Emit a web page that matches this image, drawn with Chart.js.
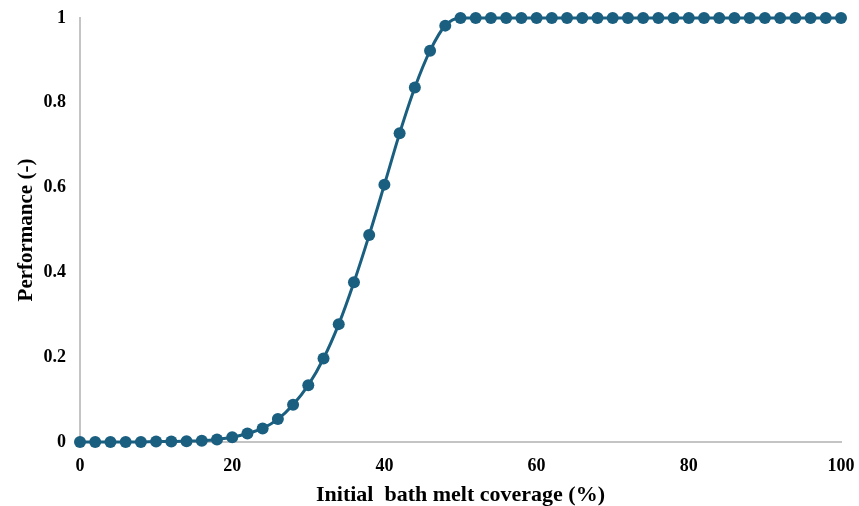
<!DOCTYPE html>
<html>
<head>
<meta charset="utf-8">
<script src="https://cdn.jsdelivr.net/npm/chart.js@4/dist/chart.umd.min.js"></script>
<style>
  html, body { margin: 0; padding: 0; background: #ffffff; }
  #wrap { width: 859px; height: 506px; position: relative; }
</style>
</head>
<body>
<div id="wrap"><canvas id="chart"></canvas></div>
<script>
// Initial bath melt coverage (%) sampled every 2 %
const coverage = [
  0, 2, 4, 6, 8, 10, 12, 14, 16, 18, 20, 22, 24, 26, 28, 30, 32, 34, 36, 38,
  40, 42, 44, 46, 48, 50, 52, 54, 56, 58, 60, 62, 64, 66, 68, 70, 72, 74, 76, 78,
  80, 82, 84, 86, 88, 90, 92, 94, 96, 98, 100
];
// Performance (-) at each coverage value
const performance = [
  0, 0, 0, 0, 0, 0.001, 0.001, 0.002, 0.003, 0.006, 0.011, 0.020, 0.032, 0.054, 0.088, 0.134, 0.197, 0.278, 0.377, 0.488,
  0.607, 0.728, 0.836, 0.923, 0.982, 1, 1, 1, 1, 1, 1, 1, 1, 1, 1, 1, 1, 1, 1, 1,
  1, 1, 1, 1, 1, 1, 1, 1, 1, 1, 1
];
const xTicks = [0, 20, 40, 60, 80, 100];
const yTicks = [0, 0.2, 0.4, 0.6, 0.8, 1];

const points = coverage.map((c, i) => ({ x: c, y: performance[i] }));
const seriesColor = '#1a5f80';
const axisColor = '#c4c4c4';
const font = { family: '"Liberation Serif", "Times New Roman", serif', weight: 'bold' };

// Fixed axis boxes so the plot area sits at a set place on the canvas
function fixBox(size, dim) {
  return s => {
    s[dim] = size;
    s.paddingTop = 0; s.paddingBottom = 0; s.paddingLeft = 0; s.paddingRight = 0;
  };
}

new Chart(document.getElementById('chart'), {
  type: 'line',
  data: {
    datasets: [{
      data: points,
      borderColor: seriesColor,
      backgroundColor: seriesColor,
      borderWidth: 3,
      pointRadius: 6,
      pointHoverRadius: 6,
      pointBackgroundColor: seriesColor,
      pointBorderWidth: 0,
      cubicInterpolationMode: 'monotone',
      clip: false
    }]
  },
  options: {
    responsive: true,
    maintainAspectRatio: false,
    animation: false,
    layout: { padding: { top: 18, right: 18, left: 0, bottom: 0 } },
    plugins: { legend: { display: false }, tooltip: { enabled: false } },
    scales: {
      x: {
        type: 'linear',
        min: 0, max: 100,
        afterFit: fixBox(64, 'height'),
        afterBuildTicks: s => { s.ticks = xTicks.map(v => ({ value: v })); },
        grid: { display: false, drawTicks: false },
        border: { color: axisColor, width: 2 },
        ticks: { color: '#000', padding: 14, font: { ...font, size: 18 }, maxRotation: 0 },
        title: {
          display: true,
          text: 'Initial  bath melt coverage (%)',
          color: '#000',
          font: { ...font, size: 22, lineHeight: 1 },
          padding: { top: 0, bottom: 0 }
        }
      },
      y: {
        min: 0, max: 1,
        afterFit: fixBox(80, 'width'),
        afterBuildTicks: s => { s.ticks = yTicks.map(v => ({ value: v })); },
        grid: { display: false, drawTicks: false },
        border: { color: axisColor, width: 2 },
        ticks: {
          color: '#000', padding: 14, font: { ...font, size: 18 },
          callback: v => String(Math.round(v * 10) / 10)
        },
        title: {
          display: true,
          text: 'Performance (-)',
          color: '#000',
          font: { ...font, size: 21 },
          padding: { top: 14, bottom: 0 }
        }
      }
    }
  }
});
</script>
</body>
</html>
